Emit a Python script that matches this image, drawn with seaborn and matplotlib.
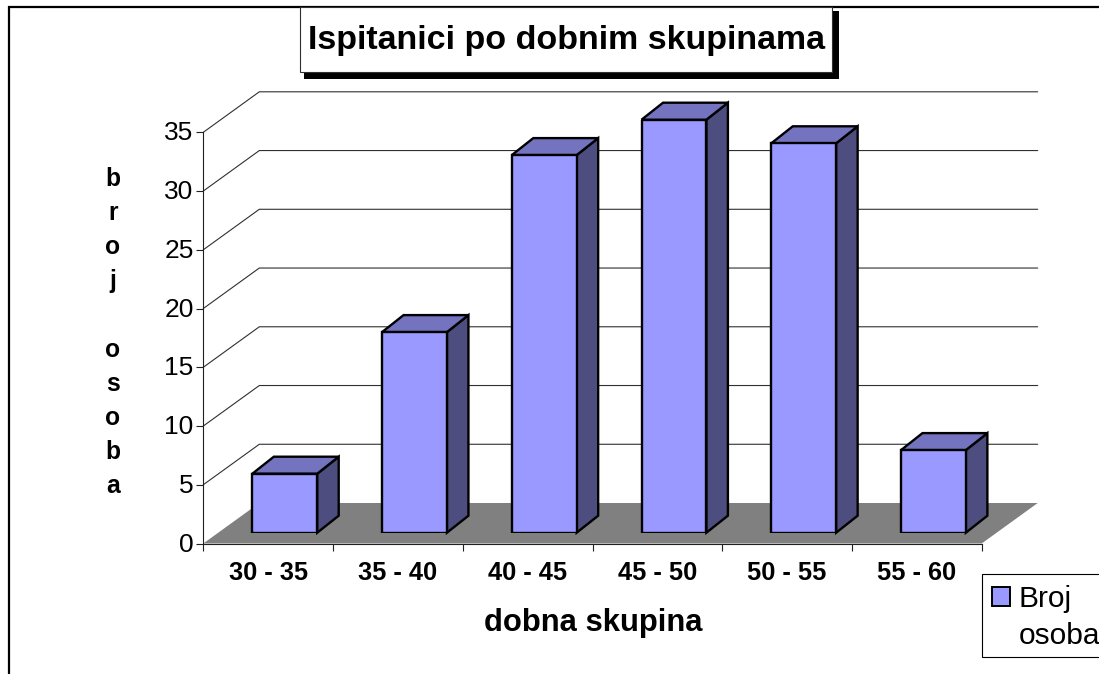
import pandas as pd
import seaborn as sns
import matplotlib.pyplot as plt
from matplotlib.patches import Polygon, Rectangle
from matplotlib.transforms import ScaledTranslation

# Ispitanici po dobnim skupinama - pseudo 3D stupci
kategorije = ["30 - 35", "35 - 40", "40 - 45", "45 - 50", "50 - 55", "55 - 60"]
broj_osoba = [5, 17, 32, 35, 33, 7]
y_oznake = [0, 5, 10, 15, 20, 25, 30, 35]

W, H = 1099, 674
sns.set_style("white")
plt.rcParams['font.family'] = ['Liberation Sans', 'DejaVu Sans']
plt.rcParams['text.color'] = "black"
plt.rcParams['xtick.color'] = "black"
plt.rcParams['ytick.color'] = "black"

fig = plt.figure(figsize=(W / 100, H / 100), dpi=100)


def px_axes(x0, y_top, x1, y_bot, **kw):
    return fig.add_axes([x0 / W, 1 - y_bot / H, (x1 - x0) / W, (y_bot - y_top) / H], **kw)


# pozadina u pikselima: okvir grafikona
bg = px_axes(0, 0, W, H, zorder=0)
bg.set_xlim(0, W)
bg.set_ylim(H, 0)
bg.axis("off")
bg.plot([8.5, 8.5, W], [H, 6.5, 6.5], color="black", lw=1.6, solid_joinstyle="miter")

# glavna os: zidovi, pod i oznake
ax = px_axes(203.3, 132.3, 981.7, 543.5, zorder=1)
ax.patch.set_alpha(0)
ax.set_xlim(-0.5, 5.5)
ax.set_ylim(0, 35)
dx = 56 / 129.7
dy = 40.5 / 11.75

ax.add_patch(Polygon([(-0.5, 0), (-0.5 + dx, dy), (5.5 + dx, dy), (5.5, 0)],
                     closed=True, facecolor="#808080", edgecolor="none", clip_on=False, zorder=1))
for v in y_oznake[1:]:
    ax.plot([-0.5, -0.5 + dx, 5.5 + dx], [v, v + dy, v + dy], color="#303030", lw=0.8,
            clip_on=False, zorder=1, solid_joinstyle="miter")

for side in ["top", "right"]:
    ax.spines[side].set_visible(False)
for side in ["left", "bottom"]:
    ax.spines[side].set_linewidth(0.8)
    ax.spines[side].set_color("#202020")
ax.set_yticks(y_oznake)
ax.set_xticks([i - 0.5 for i in range(7)])
ax.set_xticklabels([])
ax.set_xticks(range(6), minor=True)
ax.set_xticklabels(kategorije, minor=True, fontsize=18.3, fontweight="bold")
ax.tick_params(axis="x", which="major", length=5, width=0.8, bottom=True, color="#202020")
ax.tick_params(axis="x", which="minor", length=0, pad=12.5)
ax.tick_params(axis="y", length=5, width=0.8, left=True, color="#202020", labelsize=19, pad=2)
for lab in ax.get_yticklabels():
    lab.set_transform(lab.get_transform() + ScaledTranslation(0, 1.5 / 100, fig.dpi_scale_trans))

# stupci
ax_bar = px_axes(219.9, 532.7 - 35 * 11.8, 998.3, 532.7, zorder=2)
df = pd.DataFrame({"skupina": kategorije, "broj": broj_osoba})
sns.barplot(data=df, x="skupina", y="broj", ax=ax_bar, color="#9999FF", saturation=1,
            width=0.5, edgecolor="black", linewidth=1.7, zorder=3)
ax_bar.set_xlim(-0.5, 5.5)
ax_bar.set_ylim(0, 35)
ax_bar.axis("off")

bar_dx = 21.5 / 129.7
bar_dy = 17 / 11.8
for bar in ax_bar.patches[:len(broj_osoba)]:
    x0 = bar.get_x()
    x1 = x0 + bar.get_width()
    h = bar.get_height()
    ax_bar.add_patch(Polygon([(x1, 0), (x1 + bar_dx, bar_dy), (x1 + bar_dx, h + bar_dy), (x1, h)],
                             closed=True, facecolor="#4D4D80", edgecolor="black", lw=1.7,
                             clip_on=False, zorder=2, joinstyle="miter"))
    ax_bar.add_patch(Polygon([(x0, h), (x0 + bar_dx, h + bar_dy), (x1 + bar_dx, h + bar_dy), (x1, h)],
                             closed=True, facecolor="#7373BF", edgecolor="black", lw=1.7,
                             clip_on=False, zorder=2, joinstyle="miter"))

# natpisi osi
fig.text(593.5 / W, 1 - 623 / H, "dobna skupina", ha="center", va="center",
         fontsize=22.3, fontweight="bold")
fig.text(113 / W, 1 - 332.5 / H, "b\nr\no\nj\n\no\ns\no\nb\na", ha="center", va="center",
         fontsize=17.7, fontweight="bold", linespacing=1.535)

# naslov i legenda iznad svega
top = px_axes(0, 0, W, H, zorder=5)
top.set_xlim(0, W)
top.set_ylim(H, 0)
top.axis("off")
top.patch.set_alpha(0)
top.add_patch(Rectangle((304, 11), 535, 68, facecolor="black", edgecolor="none"))
top.add_patch(Rectangle((299.5, 7), 532.5, 65, facecolor="white", edgecolor="#303030", lw=0.8))
top.text(566.5, 41, "Ispitanici po dobnim skupinama", ha="center", va="center",
         fontsize=24.5, fontweight="bold")

# okvir legende posebno, jer je u originalu odrezan desnim rubom
top.add_patch(Rectangle((981.5, 573.5), 130, 83, facecolor="white", edgecolor="black", lw=0.8))
swatch = Rectangle((0, 0), 1, 1, facecolor="#9999FF", edgecolor="black", lw=1.4)
prazno = Rectangle((0, 0), 1, 1, facecolor="none", edgecolor="none")
top.legend([swatch, prazno], ["Broj", "osoba"], loc="upper left",
           bbox_to_anchor=(981.5 / W, 1 - 574.5 / H), bbox_transform=fig.transFigure,
           borderaxespad=0, frameon=False,
           fontsize=21.5, handlelength=0.6, handleheight=0.6, handletextpad=0.28,
           borderpad=0.36, labelspacing=0.3)

fig.savefig("out.png", dpi=100, facecolor="white")
